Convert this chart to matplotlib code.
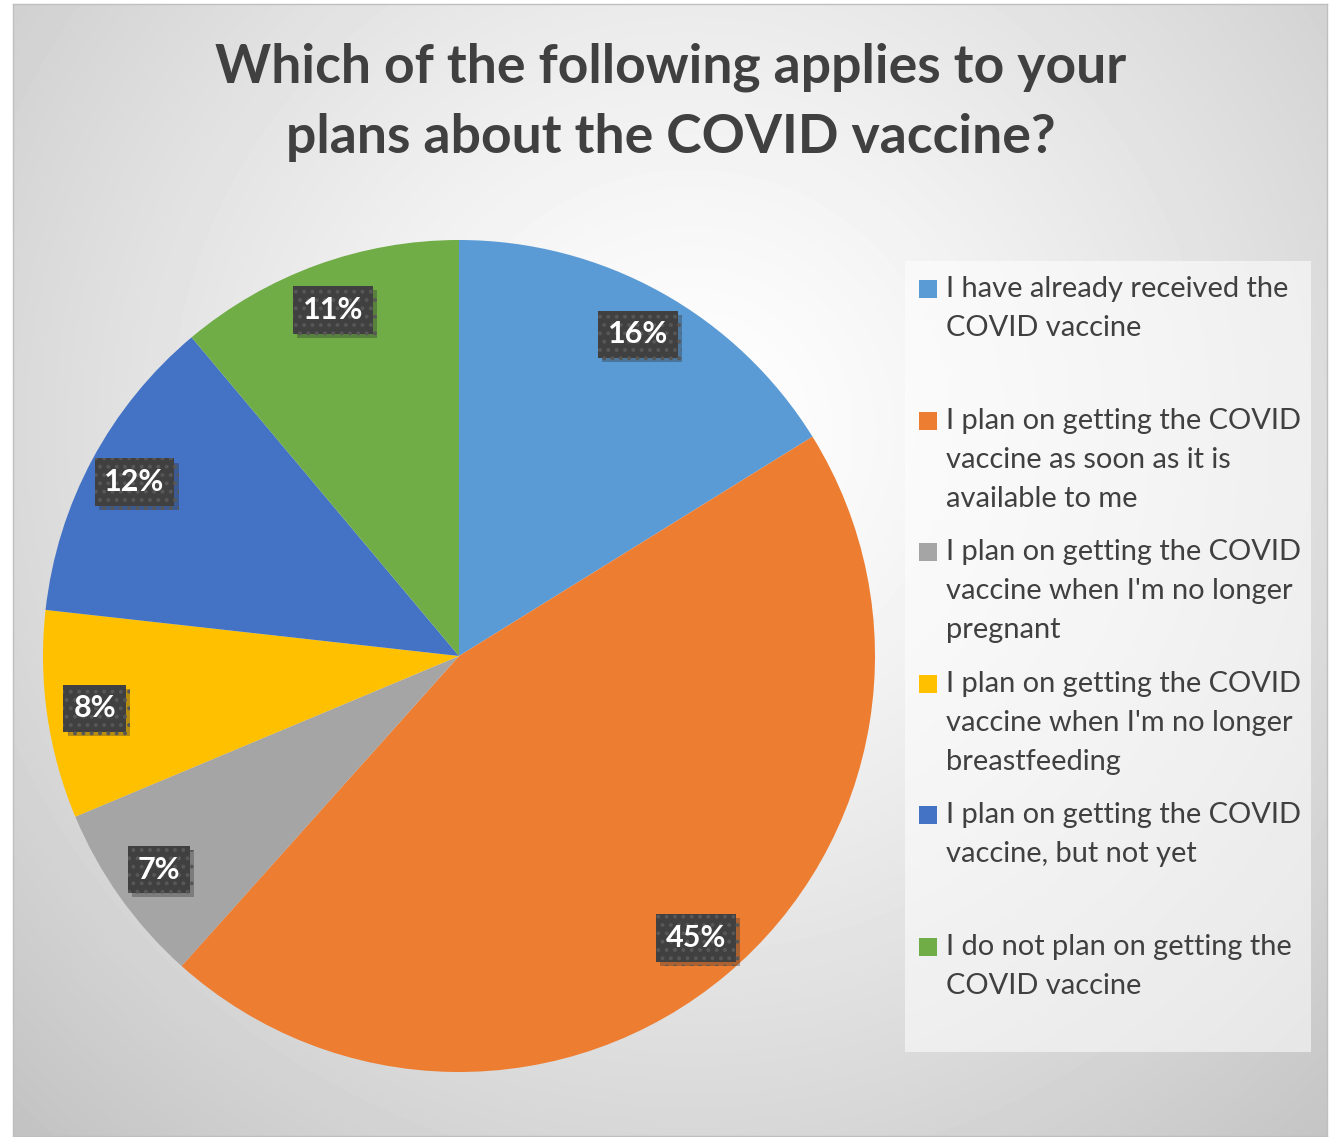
import numpy as np
import matplotlib
matplotlib.use("Agg")
import matplotlib.pyplot as plt
import matplotlib.patheffects as pe
from matplotlib.patches import Rectangle

# Survey answers (percent of respondents)
categories = [
    "I have already received the\nCOVID vaccine",
    "I plan on getting the COVID\nvaccine as soon as it is\navailable to me",
    "I plan on getting the COVID\nvaccine when I'm no longer\npregnant",
    "I plan on getting the COVID\nvaccine when I'm no longer\nbreastfeeding",
    "I plan on getting the COVID\nvaccine, but not yet",
    "I do not plan on getting the\nCOVID vaccine",
]
values = [16, 45, 7, 8, 12, 11]
colors = ["#5B9BD5", "#ED7D31", "#A5A5A5", "#FFC000", "#4472C4", "#70AD47"]
title_lines = ["Which of the following applies to your",
               "plans about the COVID vaccine?"]

W, H = 1334, 1137
FONT = "Lato"
plt.rcParams["font.family"] = [FONT, "DejaVu Sans"]
plt.rcParams["hatch.linewidth"] = 1.6

fig = plt.figure(figsize=(W / 100, H / 100), dpi=100)
fig.patch.set_facecolor("white")


def fx(x):
    return x / W


def fy(y):
    return 1 - y / H


# chart area with a soft radial gradient
x0, x1, y0, y1 = 13, 1327, 4, 1136
bg = fig.add_axes([fx(x0), fy(y1), fx(x1 - x0), (y1 - y0) / H], zorder=0)
gx, gy = np.meshgrid(np.arange(x0, x1), np.arange(y0, y1))
d = np.hypot(gx - 690, (gy - 430) * 1.0)
shade = 1.0 - 0.24 * np.clip(d / 980, 0, 1) ** 1.3
bg.imshow(shade, cmap="gray", vmin=0, vmax=1, aspect="auto",
          extent=(0, 1, 0, 1), interpolation="bilinear")
bg.set_xticks([])
bg.set_yticks([])
for s in bg.spines.values():
    s.set_color("#bfbfbf")
    s.set_linewidth(1.0)

# pie
cx, cy, r = 459, 656, 416
ax = fig.add_axes([fx(cx - r), fy(cy + r), 2 * r / W, 2 * r / H], zorder=2)

val_iter = iter(values)
wedges, texts, autotexts = ax.pie(
    values, colors=colors, startangle=90, counterclock=False, radius=1.0,
    autopct=lambda p: f"{next(val_iter)}%", pctdistance=0.885,
    wedgeprops=dict(linewidth=0),
    textprops=dict(color="white", fontsize=22, fontweight="bold", family=FONT),
)
ax.set_xlim(-1, 1)
ax.set_ylim(-1, 1)
ax.set_aspect("equal")
ax.set_axis_off()

for t in autotexts:
    t.set_bbox(dict(boxstyle="square,pad=0.32", facecolor="#404040",
                    edgecolor="#575757", linewidth=0, hatch=".."))
    t.get_bbox_patch().set_path_effects([
        pe.SimplePatchShadow(offset=(3, -3), shadow_rgbFace="#303030", alpha=0.35),
        pe.Normal(),
    ])

# title, one line at a time
for k, line in enumerate(title_lines):
    fig.text(fx(671), fy(82 + 71 * k), line, ha="center", va="baseline",
             fontsize=38.5, fontweight="bold", color="#404040", family=FONT,
             zorder=3)

# legend
fig.patches.append(Rectangle((fx(905), fy(1052)), fx(1311 - 905), (1052 - 261) / H,
                             transform=fig.transFigure, facecolor="white",
                             alpha=0.55, edgecolor="none", zorder=1))
first_base = 297
for i, (lab, col) in enumerate(zip(categories, colors)):
    yb = first_base + 131.6 * i
    fig.patches.append(Rectangle((fx(919), fy(yb + 1)), fx(18), 18 / H,
                                 transform=fig.transFigure, facecolor=col,
                                 edgecolor="none", zorder=3))
    for k, line in enumerate(lab.split("\n")):
        fig.text(fx(946), fy(yb + 39 * k), line, ha="left", va="baseline",
                 fontsize=20.9, color="#404040", family=FONT, zorder=3)

fig.savefig("out.png", dpi=100)
